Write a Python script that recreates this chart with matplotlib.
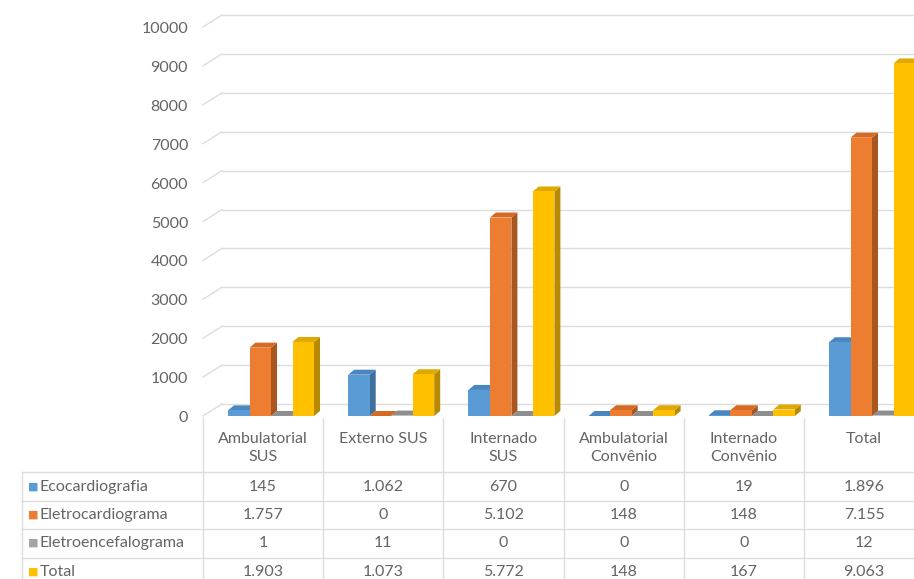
import numpy as np
import matplotlib
matplotlib.use("Agg")
import matplotlib.pyplot as plt
from matplotlib.patches import Polygon
from matplotlib.transforms import blended_transform_factory

# Data
categories = ["Ambulatorial\nSUS", "Externo SUS", "Internado\nSUS",
              "Ambulatorial\nConvênio", "Internado\nConvênio", "Total"]
series_names = ["Ecocardiografia", "Eletrocardiograma", "Eletroencefalograma", "Total"]
ecocardiografia = [145, 1062, 670, 0, 19, 1896]
eletrocardiograma = [1757, 0, 5102, 148, 148, 7155]
eletroencefalograma = [1, 11, 0, 0, 0, 12]
total = [1903, 1073, 5772, 148, 167, 9063]
y_ticks = list(range(0, 10001, 1000))

series = [ecocardiografia, eletrocardiograma, eletroencefalograma, total]
front = ["#5B9BD5", "#ED7D31", "#A5A5A5", "#FFC000"]
side = ["#3F6F9C", "#A9561F", "#767676", "#B88A00"]
top = ["#4A86C0", "#D66A22", "#8E8E8E", "#E0A800"]
text_col = "#646464"
grid_col = "#DDDDDD"
FS = 11.5

plt.rcParams['font.family'] = ['Lato', 'DejaVu Sans']

W, H = 914, 579
fig = plt.figure(figsize=(W / 100, H / 100), dpi=100)

x0_px, col_px = 203, 120.2
zero_px, per_k = 416, 38.9
ax = fig.add_axes([x0_px / W, 1 - zero_px / H, 6 * col_px / W, zero_px / H])
ymax = zero_px / per_k * 1000
ax.set_xlim(-0.5, 5.5)
ax.set_ylim(0, ymax)
ax.axis("off")

px_x = 1 / col_px          # one pixel in x data units
px_y = 1000 / per_k        # one pixel in y data units

# back wall gridlines + left wall slants
wall_dx, wall_dy = 19 * px_x, 12 * px_y
for v in y_ticks:
    ax.plot([-0.5 + wall_dx, 5.5], [v + wall_dy, v + wall_dy], color=grid_col, lw=1, zorder=0, clip_on=False)
    ax.plot([-0.5, -0.5 + wall_dx], [v, v + wall_dy], color=grid_col, lw=1, zorder=0, clip_on=False)
    ax.text(-0.5 - 15 * px_x, v - 2 * px_y, str(v), ha="right", va="center",
            fontsize=FS, color=text_col)

# 3D-ish bars
bw = 21.5 * px_x
dx, dy = 6 * px_x, 5 * px_y
x = np.arange(len(categories))
for k, vals in enumerate(series):
    lefts = x - 0.5 + 25 * px_x + k * bw
    for i, (l, v) in enumerate(zip(lefts, vals)):
        z = 2 + k
        ax.add_patch(Polygon([(l + bw, 0), (l + bw + dx, dy), (l + bw + dx, v + dy), (l + bw, v)],
                             closed=True, facecolor=side[k], edgecolor="none", zorder=z))
        ax.add_patch(Polygon([(l, v), (l + dx, v + dy), (l + bw + dx, v + dy), (l + bw, v)],
                             closed=True, facecolor=top[k], edgecolor="none", zorder=z))
    ax.bar(lefts, vals, width=bw, align="edge", color=front[k], edgecolor="none", zorder=2 + k)

# data table below the chart
tr = blended_transform_factory(ax.transData, fig.transFigure)
def fy(p):
    return 1 - p / H

label_left = -0.5 - (x0_px - 22) * px_x
bounds = [-0.5 + i for i in range(len(categories) + 1)]
for b in bounds:
    fig.add_artist(plt.Line2D([b, b], [fy(418), fy(H)], color=grid_col, lw=1, transform=tr))
fig.add_artist(plt.Line2D([label_left, label_left], [fy(472), fy(H)], color=grid_col, lw=1, transform=tr))
for yl in [472, 501, 529, 558]:
    fig.add_artist(plt.Line2D([label_left, 5.5], [fy(yl), fy(yl)], color=grid_col, lw=1, transform=tr))

for i, c in enumerate(categories):
    fig.text(i, fy(432), c, transform=tr, ha="center", va="top", fontsize=FS,
             color=text_col, linespacing=1.4)

def fmt(v):
    return f"{v:,}".replace(",", ".")

row_y = [487, 515, 543, 572]
for k, (name, vals) in enumerate(zip(series_names, series)):
    yc = fy(row_y[k])
    fig.text(label_left + 6 * px_x, yc, "■", transform=tr, ha="left", va="center",
             fontsize=8, color=front[k], family=["DejaVu Sans"])
    fig.text(label_left + 18 * px_x, yc, name, transform=tr, ha="left", va="center",
             fontsize=FS, color=text_col)
    for i, v in enumerate(vals):
        fig.text(i, yc, fmt(v), transform=tr, ha="center", va="center",
                 fontsize=FS, color=text_col)

fig.savefig("out.png", dpi=100)
